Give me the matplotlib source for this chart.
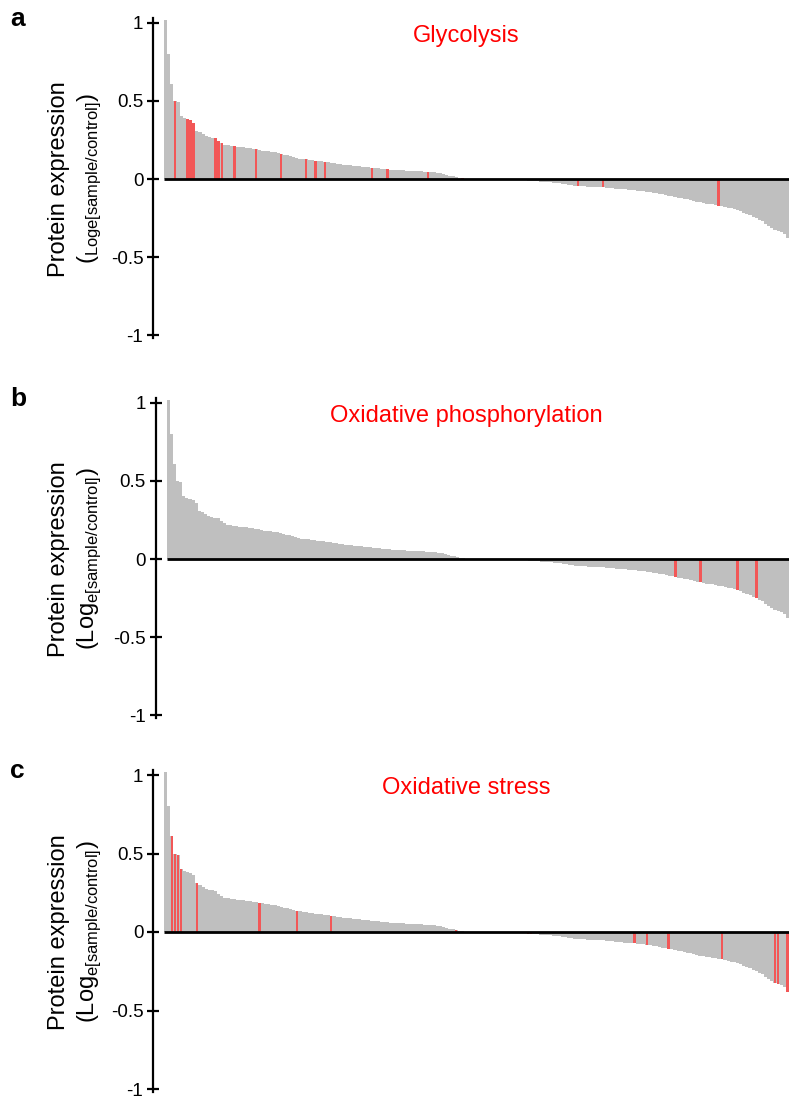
import matplotlib.pyplot as plt
import numpy as np

plt.rcParams['font.family'] = ['Liberation Sans', 'DejaVu Sans']
plt.rcParams['mathtext.fontset'] = 'custom'
plt.rcParams['mathtext.rm'] = 'Liberation Sans'
plt.rcParams['axes.unicode_minus'] = False

# sorted protein log ratios (same protein list in all three panels)
expression = [
    1.02, 0.80, 0.61, 0.50, 0.49, 0.40, 0.39, 0.385, 0.375, 0.36,
    0.31, 0.30, 0.285, 0.275, 0.27, 0.265, 0.26, 0.24, 0.23, 0.218,
    0.215, 0.212, 0.21, 0.207, 0.205, 0.202, 0.20, 0.196, 0.193, 0.19,
    0.185, 0.182, 0.18, 0.176, 0.173, 0.17, 0.166, 0.161, 0.156, 0.151,
    0.146, 0.141, 0.136, 0.131, 0.128, 0.125, 0.122, 0.12, 0.117, 0.115,
    0.112, 0.11, 0.107, 0.104, 0.10, 0.098, 0.095, 0.092, 0.09, 0.088,
    0.085, 0.083, 0.08, 0.078, 0.076, 0.074, 0.072, 0.07, 0.068, 0.066,
    0.064, 0.062, 0.06, 0.059, 0.058, 0.057, 0.056, 0.054, 0.053, 0.052,
    0.05, 0.049, 0.048, 0.047, 0.046, 0.044, 0.042, 0.04, 0.036, 0.033,
    0.028, 0.022, 0.016, 0.012, 0.008, 0.005, 0.003, 0.002, 0.002, 0.001,
    0.001, 0.001, 0.0005, 0.0005, 0.0, 0.0, -0.0005, -0.001, -0.002, -0.003,
    -0.004, -0.005, -0.006, -0.007, -0.008, -0.009, -0.01, -0.011, -0.013, -0.015,
    -0.017, -0.019, -0.02, -0.022, -0.024, -0.026, -0.028, -0.03, -0.033, -0.036,
    -0.039, -0.042, -0.045, -0.046, -0.047, -0.048, -0.049, -0.05, -0.051, -0.052,
    -0.053, -0.055, -0.057, -0.059, -0.061, -0.063, -0.065, -0.067, -0.068, -0.07,
    -0.072, -0.074, -0.076, -0.079, -0.082, -0.085, -0.088, -0.091, -0.095, -0.099,
    -0.103, -0.107, -0.111, -0.115, -0.119, -0.123, -0.127, -0.131, -0.136, -0.141,
    -0.146, -0.15, -0.154, -0.157, -0.16, -0.163, -0.166, -0.17, -0.174, -0.178,
    -0.183, -0.188, -0.194, -0.20, -0.207, -0.215, -0.223, -0.232, -0.241, -0.25,
    -0.26, -0.27, -0.285, -0.30, -0.315, -0.325, -0.33, -0.34, -0.35, -0.38,
]

panel_letters = ['a', 'b', 'c']
pathways = ['Glycolysis', 'Oxidative phosphorylation', 'Oxidative stress']
# rank positions of pathway proteins
glycolysis_hits = [3, 7, 8, 9, 16, 17, 18, 22, 29, 37, 45, 48, 51, 66, 71, 84, 95, 132, 140, 177]
oxphos_hits = [114, 163, 171, 183, 189]
stress_hits = [2, 3, 4, 5, 10, 30, 42, 53, 93, 110, 113, 116, 117, 150, 154, 161, 178, 195, 196, 199]
hits = [glycolysis_hits, oxphos_hits, stress_hits]

ylabels = [r'$(_{\mathrm{Loge[sample/control]}})$',
           r'$(\mathrm{Log}_{\mathrm{e[sample/control]}})$',
           r'$(\mathrm{Log}_{\mathrm{e[sample/control]}})$']
yticks = [-1, -0.5, 0, 0.5, 1]
yticklabels = ['-1', '-0.5', '0', '0.5', '1']

W, H = 789, 1100
fig = plt.figure(figsize=(W / 100, H / 100), dpi=100)

# pixel layout: (spine x, y of value 1, y of value 0)
layout = [(153, 22.7, 179.0), (155.7, 402.7, 559.0), (153, 775.0, 932.0)]
ymin, ymax = -1.02, 1.03

vals = np.array(expression)
n = len(vals)
xpos = np.arange(n)

for k in range(3):
    sx, y1, y0 = layout[k]
    unit = y0 - y1
    top = y0 - ymax * unit
    bot = y0 - ymin * unit
    ax = fig.add_axes([sx / W, 1 - bot / H, (W - sx) / W, (bot - top) / H])
    ax.bar(xpos, vals, width=1.0, color='#bfbfbf', linewidth=0)
    idx = np.array(hits[k])
    ax.bar(idx, vals[idx], width=0.8, color='#f25757', linewidth=0, zorder=2)
    ax.plot([-0.5, n - 0.5], [0, 0], color='black', lw=2, zorder=3, solid_capstyle='butt')
    ax.set_xlim(-4.02, n - 0.5)
    ax.set_ylim(ymin, ymax)
    for s in ['top', 'right', 'bottom']:
        ax.spines[s].set_visible(False)
    ax.spines['left'].set_linewidth(1.6)
    ax.set_xticks([])
    ax.set_yticks(yticks)
    ax.set_yticklabels(yticklabels, fontsize=13.5)
    ax.tick_params(axis='y', direction='inout', length=8, width=1.6, pad=3)
    ax.patch.set_alpha(0)

    fig.text(10 / W, 1 - (y1 - 4) / H, panel_letters[k], fontsize=19, fontweight='bold',
             ha='left', va='center')
    fig.text(466 / W, 1 - (y1 + 13) / H, pathways[k], fontsize=17, color='#ff0000',
             ha='center', va='center')
    fig.text(59 / W, 1 - y0 / H, 'Protein expression', fontsize=17, rotation=90,
             ha='center', va='center')
    fig.text(89 / W, 1 - y0 / H, ylabels[k], fontsize=17, rotation=90,
             ha='center', va='center')

fig.savefig('out.png', dpi=100)
